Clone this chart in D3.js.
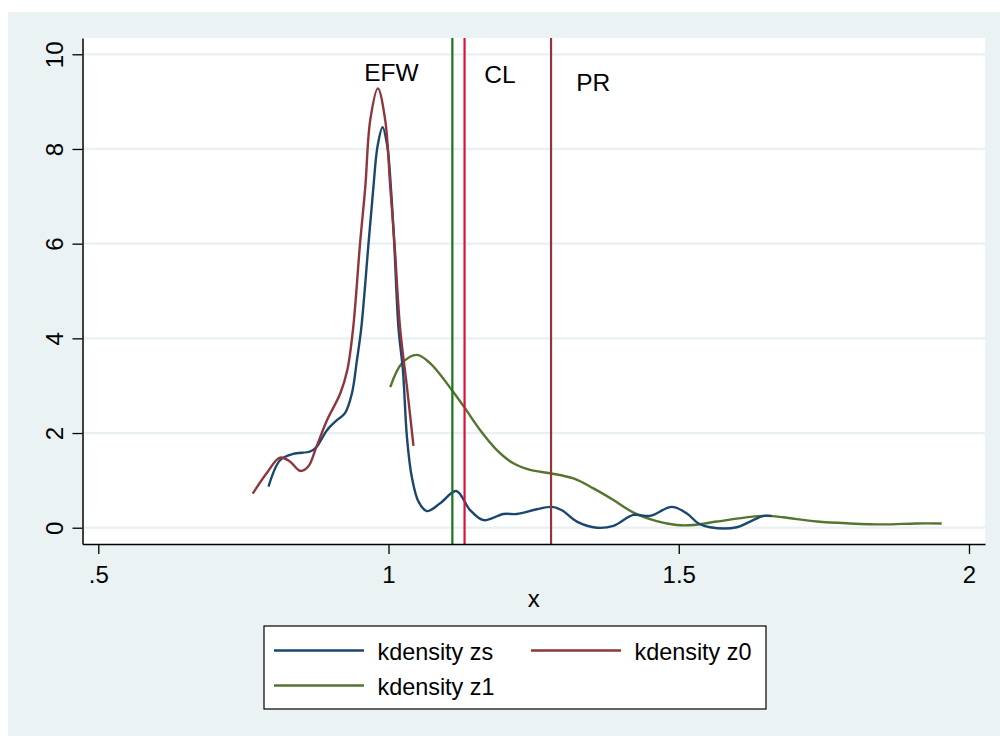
<!DOCTYPE html>
<html>
<head>
<meta charset="utf-8">
<script src="https://cdn.jsdelivr.net/npm/d3@7"></script>
<style>
  body { margin: 0; background: #ffffff; }
  svg text { font-family: "Liberation Sans", Arial, sans-serif; fill: #000; }
</style>
</head>
<body>
<svg id="chart" width="1000" height="736"></svg>
<script>
"use strict";

// kdensity zs
var zsX = [0.7933, 0.8135, 0.836, 0.865, 0.8755, 0.894, 0.911, 0.925, 0.937, 0.9456, 0.953, 0.9656, 0.974, 0.981, 0.9897, 0.998, 1.004, 1.0098, 1.0172, 1.0248, 1.0317, 1.040, 1.0517, 1.066, 1.089, 1.1166, 1.1407, 1.1636, 1.198, 1.221, 1.2556, 1.2814, 1.2987, 1.3245, 1.359, 1.3875, 1.422, 1.4507, 1.488, 1.514, 1.534, 1.554, 1.600, 1.623, 1.646, 1.660];
var zsY = [0.87, 1.43, 1.56, 1.61, 1.70, 2.06, 2.27, 2.42, 2.84, 3.54, 4.21, 6.01, 7.20, 8.05, 8.46, 8.05, 7.20, 6.01, 4.21, 3.33, 1.92, 1.08, 0.55, 0.35, 0.515, 0.775, 0.37, 0.16, 0.29, 0.29, 0.39, 0.44, 0.37, 0.13, 0.0, 0.04, 0.27, 0.25, 0.44, 0.30, 0.09, 0.01, 0.01, 0.13, 0.25, 0.25];

// kdensity z0
var z0X = [0.766, 0.790, 0.813, 0.830, 0.848, 0.862, 0.8755, 0.894, 0.917, 0.929, 0.939, 0.951, 0.960, 0.9685, 0.9817, 0.9943, 1.003, 1.0103, 1.020, 1.0317, 1.043];
var z0Y = [0.72, 1.15, 1.48, 1.40, 1.20, 1.30, 1.70, 2.27, 2.84, 3.33, 4.21, 6.01, 7.20, 8.61, 9.28, 8.61, 7.20, 6.01, 4.21, 2.98, 1.73];

// kdensity z1
var z1X = [1.003, 1.023, 1.049, 1.072, 1.109, 1.132, 1.158, 1.1867, 1.215, 1.244, 1.2785, 1.3187, 1.353, 1.3875, 1.422, 1.462, 1.4967, 1.525, 1.5656, 1.623, 1.652, 1.680, 1.738, 1.795, 1.8526, 1.910, 1.953];
var z1Y = [2.97, 3.47, 3.65, 3.47, 2.91, 2.52, 2.06, 1.64, 1.36, 1.22, 1.15, 1.04, 0.83, 0.585, 0.32, 0.14, 0.057, 0.057, 0.13, 0.23, 0.25, 0.22, 0.13, 0.09, 0.07, 0.09, 0.09];

// 竖线和标注
var vlineX = [1.110, 1.131, 1.280];
var vlineColor = ["#16761a", "#d8133f", "#93353c"];
var noteText = ["EFW", "CL", "PR"];
var noteX = [1.005, 1.192, 1.3526];
var noteY = [9.44, 9.39, 9.23];

var xTicks = [0.5, 1, 1.5, 2];
var xTickLabels = [".5", "1", "1.5", "2"];
var yTicks = [0, 2, 4, 6, 8, 10];

var seriesNames = ["kdensity zs", "kdensity z0", "kdensity z1"];
var seriesColors = ["#1a476f", "#90353b", "#55752f"];

var svg = d3.select("#chart");

// 背景
svg.append("rect")
  .attr("x", 8).attr("y", 12)
  .attr("width", 992).attr("height", 724)
  .attr("fill", "#eaf2f3");

svg.append("rect")
  .attr("x", 82.5).attr("y", 38)
  .attr("width", 902.5).attr("height", 506)
  .attr("fill", "#ffffff");

var x = d3.scaleLinear().domain([0.4728, 2.0276]).range([82.5, 985]);
var y = d3.scaleLinear().domain([-0.344, 10.344]).range([544, 38]);

// 网格线
svg.append("g")
  .selectAll("line")
  .data(yTicks)
  .join("line")
  .attr("x1", 83).attr("x2", 985)
  .attr("y1", function(d) { return y(d); })
  .attr("y2", function(d) { return y(d); })
  .attr("stroke", "#e8f0f2")
  .attr("stroke-width", 2.2);

// 曲线
var line = d3.line()
  .x(function(d) { return x(d[0]); })
  .y(function(d) { return y(d[1]); })
  .curve(d3.curveCatmullRom.alpha(0.5));

var series = [
  d3.zip(zsX, zsY),
  d3.zip(z0X, z0Y),
  d3.zip(z1X, z1Y)
];

// 先画 z1，再画 zs，z0 在上面
[2, 0, 1].forEach(function(i) {
  svg.append("path")
    .datum(series[i])
    .attr("d", line)
    .attr("fill", "none")
    .attr("stroke", seriesColors[i])
    .attr("stroke-width", 2.4)
    .attr("stroke-linejoin", "round");
});

// 竖线
svg.append("g")
  .selectAll("line")
  .data(vlineX)
  .join("line")
  .attr("x1", function(d) { return x(d); })
  .attr("x2", function(d) { return x(d); })
  .attr("y1", 38).attr("y2", 544)
  .attr("stroke", function(d, i) { return vlineColor[i]; })
  .attr("stroke-width", 2.2);

svg.append("g")
  .selectAll("text")
  .data(noteText)
  .join("text")
  .attr("x", function(d, i) { return x(noteX[i]); })
  .attr("y", function(d, i) { return y(noteY[i]); })
  .attr("text-anchor", "middle")
  .attr("font-size", 24.5)
  .text(function(d) { return d; });

// 坐标轴
var yAxis = svg.append("g")
  .attr("transform", "translate(82.5,0)")
  .call(d3.axisLeft(y).tickValues(yTicks).tickSize(10).tickSizeOuter(0));

yAxis.select(".domain").attr("stroke", "#000").attr("stroke-width", 1.5);
yAxis.selectAll(".tick line").attr("stroke", "#000").attr("stroke-width", 1.3);
yAxis.selectAll(".tick text")
  .attr("x", 0).attr("dy", 0)
  .attr("transform", "translate(-19.5,0) rotate(-90)")
  .attr("text-anchor", "middle")
  .attr("font-size", 24)
  .attr("font-family", null);

var xAxis = svg.append("g")
  .attr("transform", "translate(0,544)")
  .call(d3.axisBottom(x).tickValues(xTicks).tickSize(10).tickSizeOuter(0)
    .tickFormat(function(d, i) { return xTickLabels[i]; }));

xAxis.select(".domain").attr("stroke", "#000").attr("stroke-width", 1.5);
xAxis.selectAll(".tick line").attr("stroke", "#000").attr("stroke-width", 1.3);
xAxis.selectAll(".tick text")
  .attr("y", 38.7).attr("dy", 0)
  .attr("font-size", 24)
  .attr("font-family", null);

svg.append("text")
  .attr("x", (82.5 + 985) / 2)
  .attr("y", 606.5)
  .attr("text-anchor", "middle")
  .attr("font-size", 24)
  .text("x");

// 图例
var legend = svg.append("g");

legend.append("rect")
  .attr("x", 264).attr("y", 626)
  .attr("width", 502).attr("height", 83)
  .attr("fill", "#ffffff")
  .attr("stroke", "#000")
  .attr("stroke-width", 1.2);

var legendPos = [[274, 650.5], [531, 650.5], [274, 685.5]];

seriesNames.forEach(function(name, i) {
  var p = legendPos[i];
  legend.append("line")
    .attr("x1", p[0]).attr("x2", p[0] + 90)
    .attr("y1", p[1]).attr("y2", p[1])
    .attr("stroke", seriesColors[i])
    .attr("stroke-width", 2.4);
  legend.append("text")
    .attr("x", p[0] + 103.5)
    .attr("y", p[1] + 9)
    .attr("font-size", 23.4)
    .text(name);
});
</script>
</body>
</html>
